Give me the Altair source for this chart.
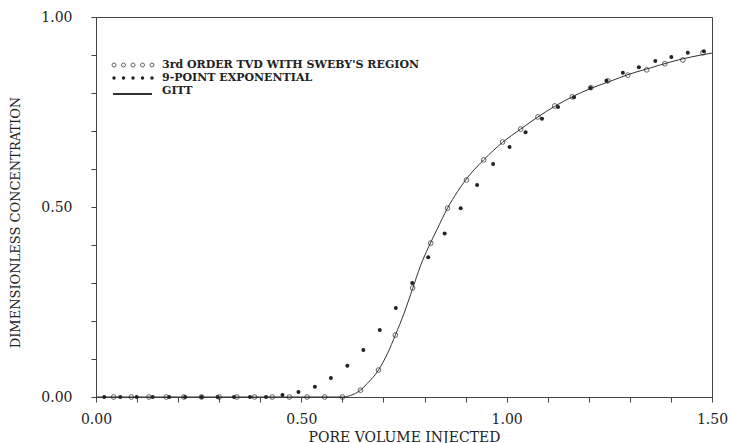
import altair as alt
import pandas as pd

# ---- data ----
gitt_x = [0.0, 0.60, 0.62, 0.644, 0.66, 0.688, 0.71, 0.729, 0.75, 0.771, 0.79, 0.81, 0.83,
          0.856, 0.88, 0.90, 0.944, 0.99, 1.034, 1.076, 1.117, 1.16, 1.20, 1.25, 1.30,
          1.35, 1.40, 1.45, 1.50]
gitt_y = [0.0, 0.0, 0.004, 0.018, 0.035, 0.071, 0.115, 0.163, 0.22, 0.285, 0.345, 0.395, 0.44,
          0.497, 0.54, 0.571, 0.624, 0.67, 0.705, 0.737, 0.765, 0.79, 0.81, 0.83, 0.85,
          0.866, 0.882, 0.895, 0.905]

tvd_x = [0.043, 0.086, 0.129, 0.171, 0.214, 0.257, 0.300, 0.343, 0.386, 0.429, 0.471, 0.514,
         0.557, 0.600, 0.644, 0.688, 0.729, 0.771, 0.815, 0.856, 0.902, 0.944, 0.990, 1.034,
         1.076, 1.117, 1.160, 1.205, 1.246, 1.295, 1.341, 1.385, 1.429, 1.478]
tvd_y = [0, 0, 0, 0, 0, 0, 0, 0, 0, 0, 0, 0, 0, 0,
         0.018, 0.071, 0.163, 0.287, 0.405, 0.497, 0.571, 0.624, 0.671, 0.705, 0.737, 0.766,
         0.79, 0.814, 0.832, 0.847, 0.861, 0.877, 0.887, 0.906]

exp_x = [0.020, 0.059, 0.099, 0.138, 0.178, 0.217, 0.257, 0.296, 0.336, 0.375, 0.414, 0.454,
         0.493, 0.533, 0.572, 0.612, 0.651, 0.691, 0.730, 0.770, 0.809, 0.849, 0.888, 0.928,
         0.967, 1.007, 1.046, 1.086, 1.125, 1.164, 1.204, 1.243, 1.283, 1.322, 1.362, 1.401,
         1.441, 1.480]
exp_y = [0, 0, 0, 0, 0, 0, 0, 0, 0, 0, 0, 0.005,
         0.013, 0.027, 0.05, 0.082, 0.124, 0.176, 0.234, 0.30, 0.368, 0.43, 0.497, 0.558,
         0.613, 0.658, 0.697, 0.732, 0.763, 0.789, 0.813, 0.832, 0.853, 0.868, 0.884, 0.895,
         0.906, 0.910]

series_labels = ["3rd ORDER TVD WITH SWEBY'S REGION", "9-POINT EXPONENTIAL", "GITT"]
x_ticks = [0.0, 0.1, 0.2, 0.3, 0.4, 0.5, 0.6, 0.7, 0.8, 0.9, 1.0, 1.1, 1.2, 1.3, 1.4, 1.5]
y_ticks = [0.0, 0.1, 0.2, 0.3, 0.4, 0.5, 0.6, 0.7, 0.8, 0.9, 1.0]

FONT = "DejaVu Serif"
INK = "#222222"

gitt = pd.DataFrame({"x": gitt_x, "y": gitt_y})
tvd = pd.DataFrame({"x": tvd_x, "y": tvd_y})
expo = pd.DataFrame({"x": exp_x, "y": exp_y})

label_expr = ("abs(datum.value*2 - round(datum.value*2)) < 0.001 ? "
              "format(datum.value, '.2f') : ''")

xs = alt.Scale(domain=[0, 1.5], nice=False, zero=False)
ys = alt.Scale(domain=[0, 1], nice=False, zero=False)

x_axis = alt.Axis(values=x_ticks, labelExpr=label_expr, title="PORE VOLUME INJECTED",
                  grid=False, tickSize=5, labelPadding=10, labelFont=FONT, labelFontSize=14,
                  labelColor=INK, labelFlush=False, labelOverlap=False,
                  titleFont=FONT, titleFontSize=14, titleFontWeight="normal",
                  titleColor=INK, titleY=44, titleBaseline="alphabetic",
                  domainColor="#444", tickColor="#444")
y_axis = alt.Axis(values=y_ticks, labelExpr=label_expr, title="DIMENSIONLESS CONCENTRATION",
                  grid=False, tickSize=5, labelPadding=19, labelFont=FONT, labelFontSize=14,
                  labelColor=INK, labelFlush=False, labelOverlap=False,
                  titleFont=FONT, titleFontSize=13, titleFontWeight="normal",
                  titleColor=INK, titleX=-81, titleY=205, titleAngle=270, titleAlign="center",
                  titleBaseline="middle", domainColor="#444", tickColor="#444")

X = alt.X("x:Q", scale=xs, axis=x_axis)
Y = alt.Y("y:Q", scale=ys, axis=y_axis)

line = alt.Chart(gitt).mark_line(color="#333", strokeWidth=1, interpolate="monotone").encode(
    x=X, y=Y)
open_pts = alt.Chart(tvd).mark_point(shape="circle", filled=False, color=INK, size=22,
                                     strokeWidth=1).encode(x=X, y=Y)
fill_pts = alt.Chart(expo).mark_point(shape="circle", filled=True, color=INK, size=16,
                                      opacity=1).encode(x=X, y=Y)

# ---- legend (pixel positions inside the plot area) ----
sym_x = [18, 27.5, 37, 46.5, 56]
leg_open = pd.DataFrame({"px": sym_x, "py": [48] * 5})
leg_fill = pd.DataFrame({"px": sym_x, "py": [61] * 5})
leg_text = pd.DataFrame({"px": [66, 66, 66], "py": [48, 61, 74], "t": series_labels})

LX = alt.X("px:Q", scale=None, axis=None)
LY = alt.Y("py:Q", scale=None, axis=None)

lo = alt.Chart(leg_open).mark_point(shape="circle", filled=False, color=INK, size=16,
                                    strokeWidth=1).encode(x=LX, y=LY)
lf = alt.Chart(leg_fill).mark_point(shape="circle", filled=True, color=INK, size=12,
                                    opacity=1).encode(x=LX, y=LY)
ll = alt.Chart(gitt).mark_rule(color="#333", strokeWidth=1).encode(
    x=alt.value(17), x2=alt.value(56), y=alt.value(77))
lt = alt.Chart(leg_text).mark_text(align="left", baseline="middle", font=FONT, fontSize=11,
                                   fontWeight="bold", color=INK).encode(
    x=LX, y=LY, text="t:N")

chart = alt.layer(line, open_pts, fill_pts, lo, lf, ll, lt).properties(
    width=616, height=380,
    padding={"left": 96, "top": 17, "right": 19, "bottom": 46},
    autosize=alt.AutoSizeParams(type="none"),
    background="white",
).configure_view(stroke="#444", strokeWidth=1)

chart.save("out.html", embed_options={"renderer": "svg", "actions": False})
